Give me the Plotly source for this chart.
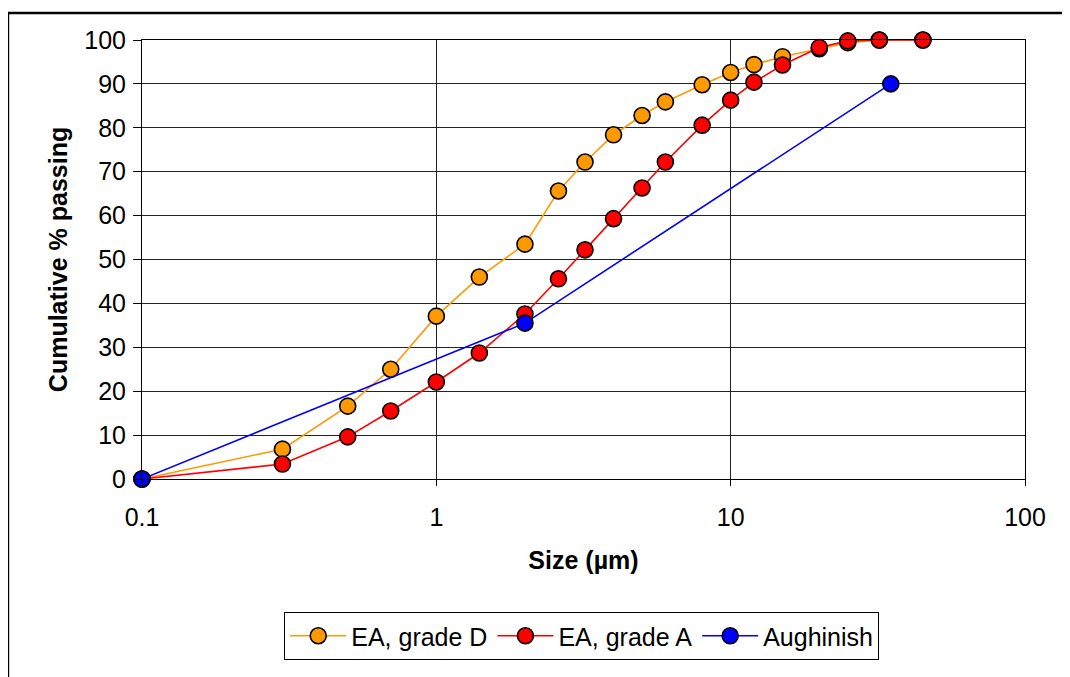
import plotly.graph_objects as go

# particle size distributions
size_d = [0.1, 0.3, 0.5, 0.7, 1.0, 1.4, 2.0, 2.6, 3.2, 4.0, 5.0, 6.0, 8.0, 10, 12, 15, 20, 25, 32, 45]
pass_d = [0, 6.8, 16.6, 25.0, 37.1, 46.0, 53.5, 65.6, 72.2, 78.4, 82.8, 85.9, 89.8, 92.6, 94.4, 96.2, 98.0, 99.4, 100, 100]

size_a = [0.1, 0.3, 0.5, 0.7, 1.0, 1.4, 2.0, 2.6, 3.2, 4.0, 5.0, 6.0, 8.0, 10, 12, 15, 20, 25, 32, 45]
pass_a = [0, 3.4, 9.6, 15.5, 22.1, 28.7, 37.6, 45.6, 52.2, 59.3, 66.3, 72.2, 80.6, 86.3, 90.4, 94.3, 98.3, 99.8, 100, 100]

size_aug = [0.1, 2.0, 35]
pass_aug = [0, 35.5, 90]

x_ticks = [0.1, 1, 10, 100]
x_ticktext = ['0.1', '1', '10', '100']

font = 'Liberation Sans, Arial, sans-serif'

series = [
    ('EA, grade D', size_d, pass_d, '#FF9900'),
    ('EA, grade A', size_a, pass_a, '#FF0000'),
    ('Aughinish', size_aug, pass_aug, '#0000FF'),
]

fig = go.Figure()
for name, xs, ys, col in series:
    fig.add_trace(go.Scatter(
        x=xs, y=ys, name=name, mode='lines+markers',
        line=dict(color=col, width=1.6),
        marker=dict(color=col, size=16, line=dict(color='black', width=1.6)),
        cliponaxis=False))

# page body adds ~8px offset, so margins are trimmed to keep plot area in place
fig.update_layout(
    width=1070, height=677,
    margin=dict(l=134, r=53, t=32, b=206),
    paper_bgcolor='white', plot_bgcolor='white',
    font=dict(family=font, size=25, color='black'),
    showlegend=True,
    legend=dict(orientation='h', x=0.498, xanchor='center', y=-0.303, yanchor='top',
                bordercolor='black', borderwidth=1, font=dict(size=25),
                itemwidth=56, tracegroupgap=0),
    shapes=[dict(type='rect', xref='paper', yref='paper',
                 x0=-0.1518, x1=1.06, y0=-0.47, y1=1.0615,
                 line=dict(color='black', width=2.5))],
)
fig.update_xaxes(
    type='log', range=[-1, 2],
    tickvals=x_ticks, ticktext=x_ticktext,
    showgrid=True, gridcolor='#222222', gridwidth=1,
    showline=True, linecolor='black', linewidth=1, mirror=True,
    ticks='outside', ticklen=6, tickcolor='black', ticklabelstandoff=10,
    zeroline=False,
    title=dict(text='<b>Size (µm)</b>', font=dict(size=25), standoff=21))
fig.update_yaxes(
    range=[0, 100], dtick=10,
    showgrid=True, gridcolor='#222222', gridwidth=1,
    showline=True, linecolor='black', linewidth=1, mirror=True,
    ticks='outside', ticklen=8, tickcolor='black', ticklabelstandoff=2,
    zeroline=False,
    title=dict(text='<b>Cumulative % passing</b>', font=dict(size=25), standoff=9))

fig.write_html('out.html')
